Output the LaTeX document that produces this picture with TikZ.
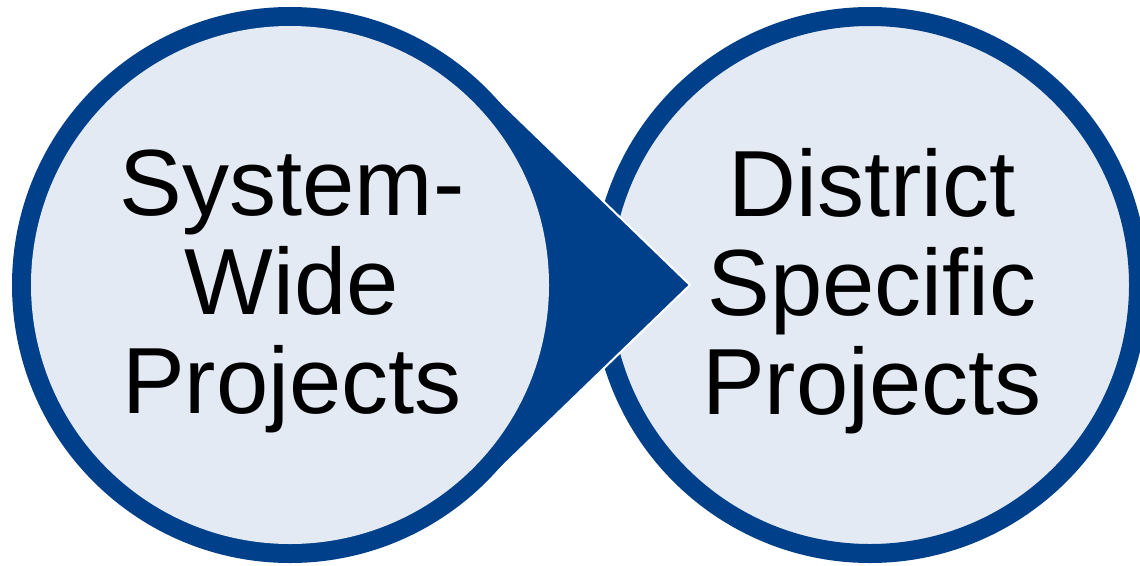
\documentclass[tikz,border=0pt]{standalone}
\usepackage{fontspec}
\setmainfont{Liberation Sans}
\definecolor{ringblue}{RGB}{0,64,138}
\definecolor{paleblue}{RGB}{228,234,244}
\begin{document}
\begin{tikzpicture}[x=1pt,y=-1pt,
  ringcircle/.style={circle, inner sep=0pt, minimum size=537pt, fill=paleblue, draw=ringblue, line width=19pt},
  innercircle/.style={circle, inner sep=0pt, minimum size=518pt, fill=paleblue},
  label/.style={align=center, inner sep=0pt, font={\fontsize{94pt}{99pt}\selectfont}, text=black}]
\useasboundingbox (0,0) rectangle (1140,565);
% right circle
\node[ringcircle] (rc) at (870,285) {};
% left teardrop pointer
\coordinate (lc) at (290,285);
\coordinate (tip) at (690,285);
\fill[ringblue, draw=white, line width=2pt] (tip) -- ([shift={(46:278)}]lc) arc[start angle=46, end angle=314, radius=278] -- cycle;
\fill[ringblue] (lc) circle[radius=278];
\node[innercircle] (lin) at (lc) {};
% labels
\node[label] (lt) at (292,291) {System-\\Wide\\Projects};
\node[label] (rt) at (872,291) {District\\Specific\\Projects};
\end{tikzpicture}
\end{document}
